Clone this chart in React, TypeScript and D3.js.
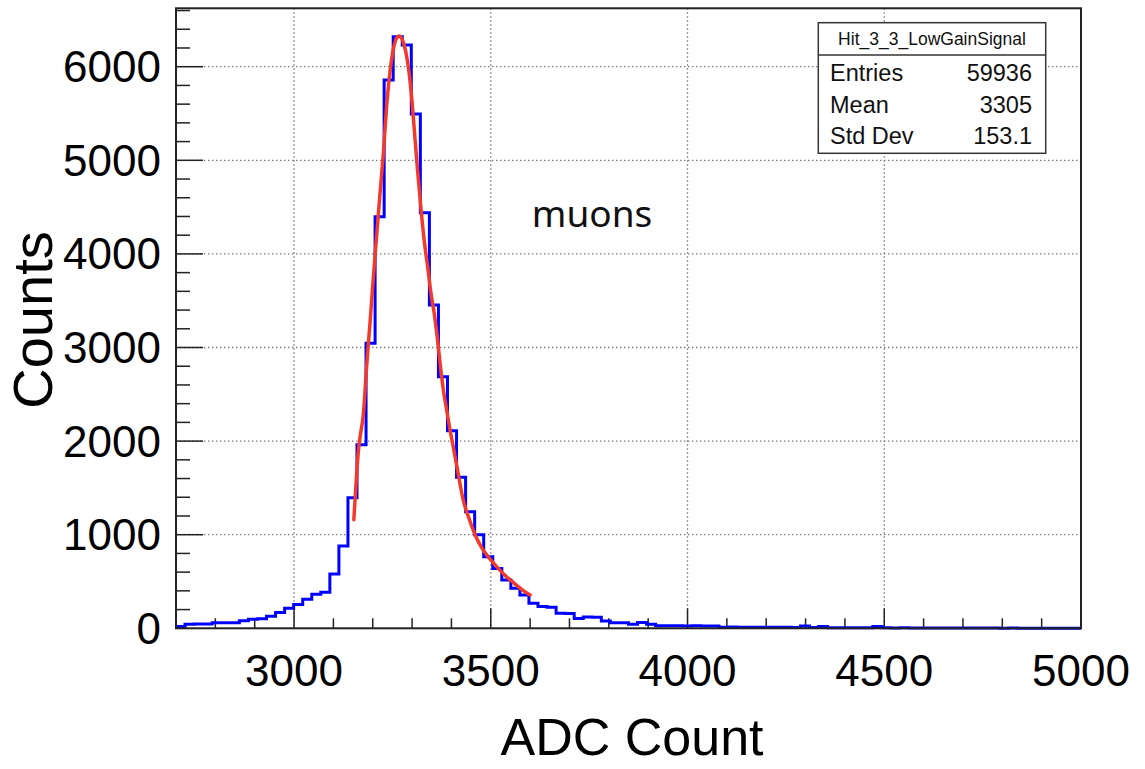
import React from "react";
import * as d3 from "d3";

// histogram: 100 bins of 23 ADC counts from 2700 to 5000
const xMin = 2700;
const xMax = 5000;
const binWidth = 23;
const binCounts = [
  20, 42, 45, 45, 58, 60, 60, 80, 98, 102,
  130, 170, 215, 255, 310, 365, 385, 580, 880, 1395,
  1960, 3045, 4397, 5858, 6320, 6232, 5495, 4440, 3454, 2688,
  2110, 1613, 1246, 1000, 765, 640, 515, 427, 355, 267,
  232, 225, 160, 158, 105, 122, 118, 78, 58, 60,
  42, 62, 42, 28, 26, 27, 25, 26, 24, 25,
  12, 13, 11, 12, 10, 11, 12, 10, 8, 24,
  9, 18, 7, 6, 7, 5, 6, 18, 5, 4,
  5, 4, 3, 4, 3, 3, 2, 3, 2, 2,
  2, 1, 2, 1, 1, 1, 1, 0, 1, 0,
];

// fit curve
const fitX = [
  3152, 3157, 3163, 3168, 3176, 3185, 3193, 3201, 3210, 3218, 3227, 3235, 3244,
  3252, 3260, 3267, 3276, 3284, 3292, 3300, 3308, 3316, 3324, 3332, 3340, 3348,
  3356, 3364, 3372, 3380, 3388, 3396, 3405, 3415, 3430, 3445, 3460, 3480, 3500,
  3520, 3540, 3560, 3580, 3600,
];
const fitY = [
  1160, 1510, 1870, 2050, 2280, 2830, 3260, 3720, 4200, 4620, 5075, 5560, 5950,
  6180, 6300, 6328, 6280, 6160, 5950, 5620, 5200, 4790, 4420, 4100, 3850, 3580,
  3370, 3110, 2800, 2530, 2330, 2130, 1930, 1700, 1370, 1170, 1000, 840, 730,
  635, 550, 480, 410, 356,
];

const xTickLabels = ["3000", "3500", "4000", "4500", "5000"];
const yTickLabels = ["0", "1000", "2000", "3000", "4000", "5000", "6000"];

const statsTitle = "Hit_3_3_LowGainSignal";
const statsNames = ["Entries", "Mean", "Std Dev"];
const statsValues = ["59936", "3305", "153.1"];

const W = 1145;
const H = 769;
const frame = { left: 176, right: 1081, top: 8.3, bottom: 628.3 };
const font = "'Liberation Sans', Arial, Helvetica, sans-serif";

export default function App() {
  const x = d3.scaleLinear().domain([xMin, xMax]).range([frame.left, frame.right]);
  const y = d3.scaleLinear().domain([0, 6624]).range([frame.bottom, frame.top]);

  const steps: [number, number][] = binCounts.map((c, i) => [xMin + i * binWidth, c]);
  steps.push([xMax, binCounts[binCounts.length - 1]]);
  const histLine = d3
    .line<[number, number]>()
    .x(d => x(d[0]))
    .y(d => y(d[1]))
    .curve(d3.curveStepAfter);

  const fitLine = d3
    .line<number>()
    .x(d => x(d))
    .y((d, i) => y(fitY[i]))
    .curve(d3.curveMonotoneX);

  const xMajor = xTickLabels.map(Number);
  const yMajor = yTickLabels.map(Number);
  const xMinor = d3.range(2800, xMax + 1, 100);
  const yMinor = d3.range(200, 6601, 200);

  const gridStyle = { stroke: "#777", strokeWidth: 1.3, strokeDasharray: "1.4,2.6" };

  const box = { x0: 818.3, x1: 1045.7, y0: 22.7, y1: 153.3, div: 55 };

  return (
    <svg
      width={W}
      height={H}
      style={{ position: "absolute", left: 0, top: 0, background: "#fff" }}
    >
      <rect x={0} y={0} width={W} height={H} fill="#fff" />

      {/* grid */}
      {xMajor
        .filter(v => v < xMax)
        .map(v => (
          <line key={"gx" + v} x1={x(v)} x2={x(v)} y1={frame.top} y2={frame.bottom} {...gridStyle} />
        ))}
      {yMajor
        .filter(v => v > 0)
        .map(v => (
          <line key={"gy" + v} x1={frame.left} x2={frame.right} y1={y(v)} y2={y(v)} {...gridStyle} />
        ))}

      {/* ticks */}
      {xMinor.map(v => (
        <line key={"mx" + v} x1={x(v)} x2={x(v)} y1={frame.bottom} y2={frame.bottom - (xMajor.includes(v) ? 20 : 10)} stroke="#222" strokeWidth={1.5} />
      ))}
      {yMinor.map(v => (
        <line key={"my" + v} x1={frame.left} x2={frame.left + (v % 1000 === 0 ? 27 : 14)} y1={y(v)} y2={y(v)} stroke="#222" strokeWidth={1.5} />
      ))}

      {/* histogram + fit */}
      <path d={histLine(steps) || ""} fill="none" stroke="#0000ff" strokeWidth={3} />
      <path d={fitLine(fitX) || ""} fill="none" stroke="#f23a2c" strokeWidth={3.5} strokeLinecap="round" />

      {/* frame */}
      <rect
        x={frame.left}
        y={frame.top}
        width={frame.right - frame.left}
        height={frame.bottom - frame.top}
        fill="none"
        stroke="#222"
        strokeWidth={2}
      />

      {/* tick labels */}
      {xTickLabels.map(t => (
        <text key={"tx" + t} x={x(+t)} y={686} textAnchor="middle" fontFamily={font} fontSize={44} fill="#000">
          {t}
        </text>
      ))}
      {yTickLabels.map(t => (
        <text key={"ty" + t} x={161} y={y(+t) + 15.5} textAnchor="end" fontFamily={font} fontSize={44} fill="#000">
          {t}
        </text>
      ))}

      {/* axis titles */}
      <text x={632} y={755} textAnchor="middle" fontFamily={font} fontSize={52} fill="#000">
        ADC Count
      </text>
      <text
        transform={`translate(52,320) rotate(-90)`}
        textAnchor="middle"
        fontFamily={font}
        fontSize={56}
        fill="#000"
      >
        Counts
      </text>

      <text x={592} y={226.7} textAnchor="middle" fontFamily="'Noto Sans', 'Open Sans', sans-serif" fontSize={37} fill="#111">
        muons
      </text>

      {/* stats box */}
      <rect x={box.x0} y={box.y0} width={box.x1 - box.x0} height={box.y1 - box.y0} fill="#fff" stroke="#333" strokeWidth={1.5} />
      <line x1={box.x0} x2={box.x1} y1={box.div} y2={box.div} stroke="#333" strokeWidth={1.5} />
      <text x={(box.x0 + box.x1) / 2} y={45} textAnchor="middle" fontFamily={font} fontSize={17.5} fill="#111">
        {statsTitle}
      </text>
      {statsNames.map((n, i) => (
        <g key={n}>
          <text x={830} y={81 + i * 31.7} fontFamily={font} fontSize={23.5} fill="#111">
            {n}
          </text>
          <text x={1032} y={81 + i * 31.7} textAnchor="end" fontFamily={font} fontSize={23.5} fill="#111">
            {statsValues[i]}
          </text>
        </g>
      ))}
    </svg>
  );
}
